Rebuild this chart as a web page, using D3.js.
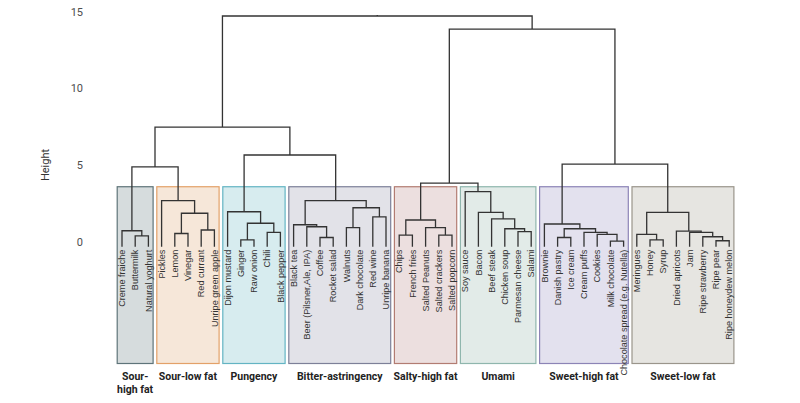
<!DOCTYPE html>
<html>
<head>
<meta charset="utf-8">
<script src="https://cdn.jsdelivr.net/npm/d3@7"></script>
<style>
  body { margin: 0; background: #fff; }
  svg { font-family: Roboto, "Liberation Sans", sans-serif; }
</style>
</head>
<body>
<svg id="chart" width="800" height="403"></svg>
<script>
const leaves = [
  "Creme fraiche", "Buttermilk", "Natural yoghurt",
  "Pickles", "Lemon", "Vinegar", "Red currant", "Unripe green apple",
  "Dijon mustard", "Ginger", "Raw onion", "Chili", "Black pepper",
  "Black tea", "Beer (Pilsner,Ale, IPA)", "Coffee", "Rocket salad", "Walnuts", "Dark chocolate", "Red wine", "Unripe banana",
  "Chips", "French fries", "Salted Peanuts", "Salted crackers", "Salted popcorn",
  "Soy sauce", "Bacon", "Beef steak", "Chicken soup", "Parmesan cheese", "Salami",
  "Brownie", "Danish pastry", "Ice cream", "Cream puffs", "Cookies", "Milk chocolate", "Chocolate spread (e.g. Nutella)",
  "Meringues", "Honey", "Syrup", "Dried apricots", "Jam", "Ripe strawberry", "Ripe pear", "Ripe honeydew melon"
];

// merges: [left, right, height]; strings are leaves, numbers refer to earlier merges
const merges = [
  ["Milk chocolate", "Chocolate spread (e.g. Nutella)", 0.05], // 0
  ["Ripe pear", "Ripe honeydew melon", 0.07],                   // 1
  ["Ginger", "Raw onion", 0.12],                                // 2
  ["Honey", "Syrup", 0.12],                                     // 3
  ["Coffee", "Rocket salad", 0.28],                             // 4
  ["Danish pastry", "Ice cream", 0.28],                         // 5
  ["Ripe strawberry", 1, 0.33],                                 // 6
  ["Buttermilk", "Natural yoghurt", 0.38],                      // 7
  ["Chips", "French fries", 0.44],                              // 8
  ["Salted crackers", "Salted popcorn", 0.44],                  // 9
  ["Cookies", 0, 0.49],                                         // 10
  ["Meringues", 3, 0.49],                                       // 11
  ["Lemon", "Vinegar", 0.54],                                   // 12
  ["Chili", "Black pepper", 0.61],                              // 13
  ["Cream puffs", 10, 0.62],                                    // 14
  ["Jam", 6, 0.62],                                             // 15
  ["Parmesan cheese", "Salami", 0.66],                          // 16
  ["Dried apricots", 15, 0.70],                                 // 17
  ["Creme fraiche", 7, 0.72],                                   // 18
  ["Red currant", "Unripe green apple", 0.77],                  // 19
  [5, 14, 0.85],                                                // 20
  ["Chicken soup", 16, 0.85],                                   // 21
  ["Salted Peanuts", 9, 0.92],                                  // 22
  ["Walnuts", "Dark chocolate", 0.92],                          // 23
  ["Beer (Pilsner,Ale, IPA)", 4, 0.98],                         // 24
  ["Black tea", 24, 1.11],                                      // 25
  ["Brownie", 20, 1.16],                                        // 26
  [2, 13, 1.21],                                                // 27
  [8, 22, 1.42],                                                // 28
  ["Beef steak", 21, 1.49],                                     // 29
  ["Red wine", "Unripe banana", 1.62],                          // 30
  [12, 19, 1.86],                                               // 31
  ["Bacon", 29, 1.92],                                          // 32
  [11, 17, 1.92],                                               // 33
  ["Dijon mustard", 27, 1.96],                                  // 34
  [23, 30, 2.22],                                               // 35
  [25, 35, 2.68],                                               // 36
  ["Pickles", 31, 2.68],                                        // 37
  ["Soy sauce", 32, 3.27],                                      // 38
  [28, 38, 3.83],                                               // 39
  [18, 37, 4.88],                                               // 40
  [26, 33, 5.07],                                               // 41
  [34, 36, 5.66],                                               // 42
  [40, 42, 7.48],                                               // 43
  [39, 41, 13.87],                                              // 44
  [43, 44, 14.72]                                               // 45
];

const groupNames = ["Sour-high fat", "Sour-low fat", "Pungency", "Bitter-astringency", "Salty-high fat", "Umami", "Sweet-high fat", "Sweet-low fat"];
const groupLabels = [["Sour-", "high fat"], ["Sour-low fat"], ["Pungency"], ["Bitter-astringency"], ["Salty-high fat"], ["Umami"], ["Sweet-high fat"], ["Sweet-low fat"]];
const groupFirst = ["Creme fraiche", "Pickles", "Dijon mustard", "Black tea", "Chips", "Soy sauce", "Brownie", "Meringues"];
const groupLast = ["Natural yoghurt", "Unripe green apple", "Black pepper", "Unripe banana", "Salted popcorn", "Salami", "Chocolate spread (e.g. Nutella)", "Ripe honeydew melon"];
const groupFill = ["#d6dcdd", "#f6e7d9", "#d7ecef", "#e2e2e8", "#ecdfdf", "#e2ebe8", "#e3e1ee", "#e6e5e1"];
const groupStroke = ["#5e7479", "#e3a168", "#63b4c3", "#7d8098", "#b27c72", "#8fb6ad", "#8c84b6", "#9a958b"];

const yTicks = [0, 5, 10, 15];
const boxTop = 3.59;

const svg = d3.select("#chart");

const x = d3.scalePoint().domain(leaves).range([122, 729.2]);
const y = d3.scaleLinear().domain([0, 15]).range([241.8, 11.7]);
const leafEnd = y(-0.32);

// node positions
const pos = m => typeof m === "string" ? { x: x(m), h: null } : nodes[m];
const nodes = [];
merges.forEach(([a, b, h]) => {
  const pa = pos(a), pb = pos(b);
  nodes.push({ x: (pa.x + pb.x) / 2, h, a: pa, b: pb });
});

// cluster boxes
const boxes = svg.append("g");
groupNames.forEach((g, i) => {
  const x0 = x(groupFirst[i]) - 4.8, x1 = x(groupLast[i]) + 4.7;
  boxes.append("rect")
    .attr("x", x0).attr("y", y(boxTop))
    .attr("width", x1 - x0).attr("height", 363.5 - y(boxTop))
    .attr("fill", groupFill[i])
    .attr("stroke", groupStroke[i])
    .attr("stroke-width", 1.2);
  const t = svg.append("text")
    .attr("x", (x0 + x1) / 2)
    .attr("y", 380)
    .attr("text-anchor", "middle")
    .attr("font-size", 10.5)
    .attr("font-weight", "bold")
    .attr("fill", "#222");
  groupLabels[i].forEach((line, j) => {
    t.append("tspan").attr("x", (x0 + x1) / 2).attr("dy", j ? 12.5 : 0).text(line);
  });
});

// dendrogram segments
const lines = svg.append("g")
  .attr("fill", "none")
  .attr("stroke", "#333")
  .attr("stroke-width", 1.3);
const childY = c => c.h === null ? leafEnd : y(c.h);
nodes.forEach(n => {
  const yy = y(n.h);
  lines.append("path")
    .attr("d", `M${n.a.x},${childY(n.a)}V${yy}H${n.b.x}V${childY(n.b)}`);
});
const root = nodes[nodes.length - 1];
lines.append("path").attr("d", `M${root.x},${y(root.h)}V${y(root.h) - 1}`);

// leaf labels
svg.append("g")
  .selectAll("text")
  .data(leaves)
  .join("text")
  .attr("transform", d => `translate(${x(d)},${leafEnd + 3}) rotate(-90)`)
  .attr("dy", "0.35em")
  .attr("text-anchor", "end")
  .attr("font-family", "'Liberation Sans', Arial, sans-serif")
  .attr("font-size", 9.1)
  .attr("fill", "#333")
  .text(d => d);

// y axis
const yAxis = d3.axisLeft(y).tickValues(yTicks).tickSize(0).tickPadding(3);
const ga = svg.append("g").attr("transform", "translate(86,0)").call(yAxis);
ga.select(".domain").remove();
ga.selectAll("text").attr("font-size", 11).attr("fill", "#4d4d4d").attr("font-family", "Roboto, sans-serif");

svg.append("text")
  .attr("transform", "translate(49,165) rotate(-90)")
  .attr("text-anchor", "middle")
  .attr("font-size", 11)
  .attr("fill", "#333")
  .text("Height");
</script>
</body>
</html>
